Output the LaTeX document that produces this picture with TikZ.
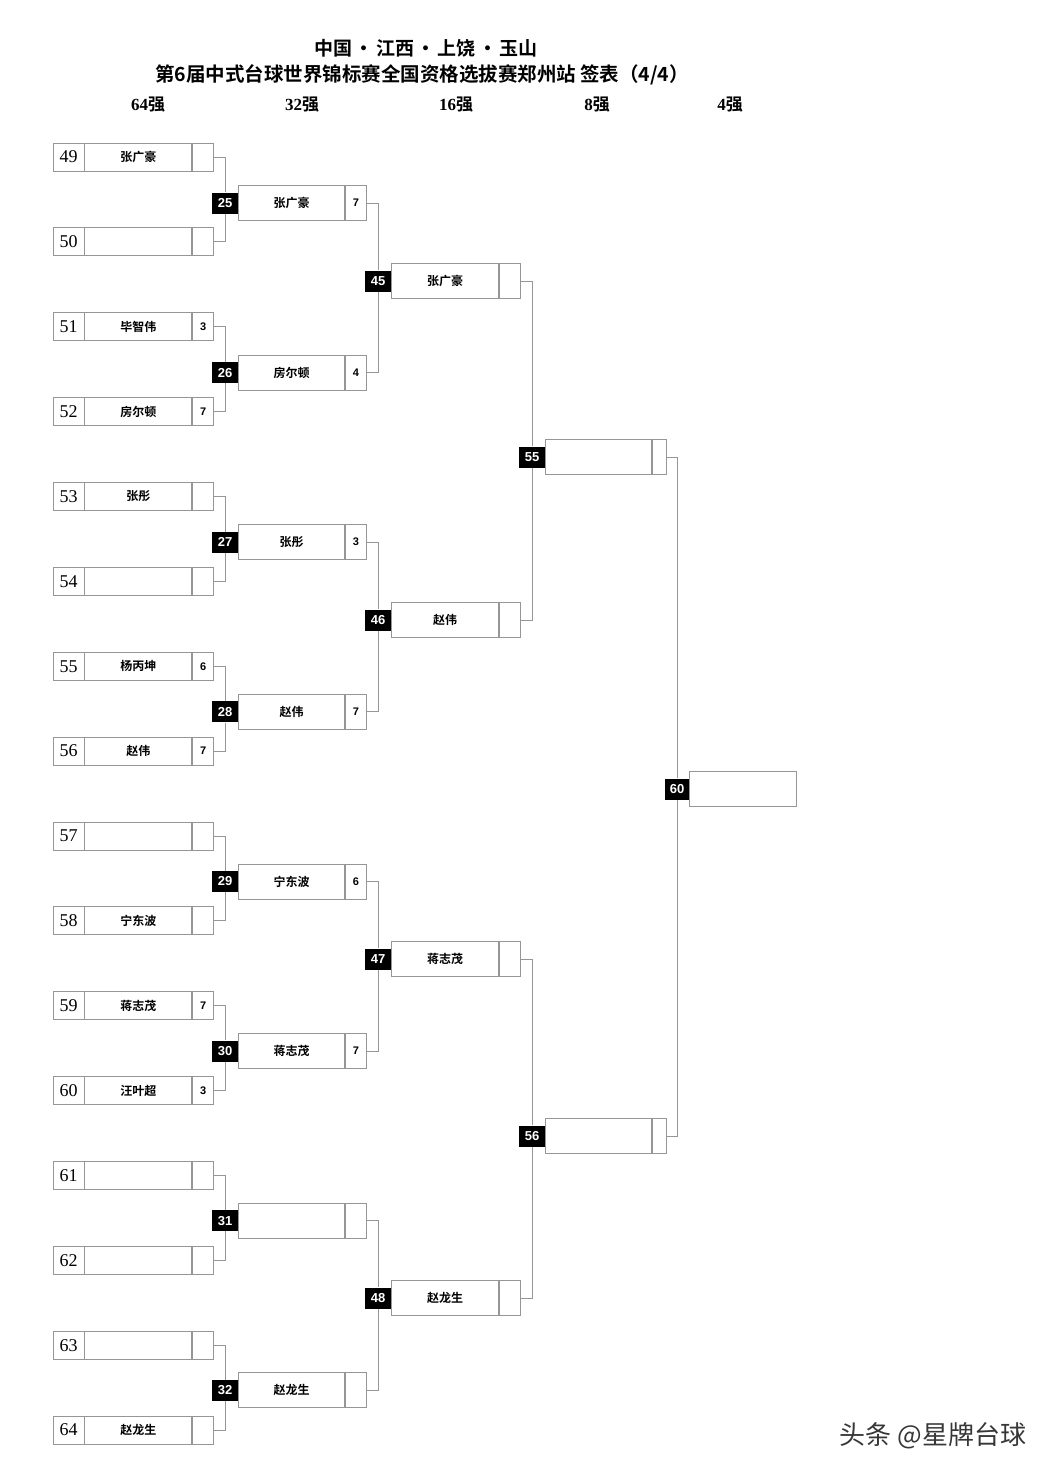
\documentclass[tikz,border=0pt]{standalone}
\usepackage{fontspec}
\setmainfont{Liberation Serif}
\setsansfont{Liberation Sans}
\newfontfamily\cjk{Noto Sans CJK SC}[BoldFont={Noto Sans CJK SC Bold}]
\usepackage{tikz}
\usetikzlibrary{positioning}
\definecolor{cellgray}{RGB}{150, 150, 150}
\definecolor{markgray}{RGB}{55, 55, 55}

\begin{document}
\begin{tikzpicture}[x=1pt, y=-1pt,
    cell/.style={draw=cellgray, line width=0.8pt, fill=white, inner sep=0pt},
    seedcell/.style={cell, minimum width=31pt, minimum height=28pt, font=\fontsize{18}{18}\selectfont},
    namecell/.style={cell, minimum width=107pt, minimum height=28pt, font=\cjk\bfseries\fontsize{12}{12}\selectfont},
    ptscell/.style={cell, minimum width=21pt, minimum height=28pt, font=\sffamily\bfseries\fontsize{11}{11}\selectfont},
    matchtag/.style={fill=black, text=white, inner sep=0pt, minimum width=26pt, minimum height=21pt, font=\sffamily\bfseries\fontsize{13}{13}\selectfont},
    link/.style={draw=cellgray, line width=0.8pt},
    roundhead/.style={font=\bfseries\fontsize{17}{17}\selectfont}
]
    \fill[white] (0,0) rectangle (1056,1473);
    \useasboundingbox (0,0) rectangle (1056,1473);

    % Title
    \node[font=\cjk\bfseries\fontsize{19}{19}\selectfont] (title) at (426,48)
        {中国\hspace{0.12em}•\hspace{0.12em}江西\hspace{0.12em}•\hspace{0.12em}上饶\hspace{0.12em}•\hspace{0.12em}玉山};
    \node[font=\cjk\bfseries\fontsize{19.5}{19.5}\selectfont] (subtitle) at (422,75)
        {第6届中式台球世界锦标赛全国资格选拔赛郑州站 签表（4/4）};

    % Round headers
    \node[roundhead] (h64) at (148,105) {64{\cjk 强}};
    \node[roundhead] (h32) at (302,105) {32{\cjk 强}};
    \node[roundhead] (h16) at (456,105) {16{\cjk 强}};
    \node[roundhead] (h8) at (597,105) {8{\cjk 强}};
    \node[roundhead] (h4) at (730,105) {4{\cjk 强}};

    % Last 64
    \foreach \seed/\who/\pts [count=\i from 0] in {49/张广豪/, 50//, 51/毕智伟/3, 52/房尔顿/7,
        53/张彤/, 54//, 55/杨丙坤/6, 56/赵伟/7, 57//, 58/宁东波/, 59/蒋志茂/7, 60/汪叶超/3,
        61//, 62//, 63//, 64/赵龙生/} {
        \node[seedcell] (seed\seed) at (68.5, {157+84.87*\i}) {\seed};
        \node[namecell, right=0pt of seed\seed] (player\seed) {\who};
        \node[ptscell, right=0pt of player\seed] (score\seed) {\pts};
    }

    % Last 32
    \foreach \m/\who/\pts [count=\i from 0] in {25/张广豪/7, 26/房尔顿/4, 27/张彤/3, 28/赵伟/7,
        29/宁东波/6, 30/蒋志茂/7, 31//, 32/赵龙生/} {
        \node[matchtag] (m\m) at (225, {203+169.6*\i}) {\m};
        \node[namecell, minimum width=106pt, minimum height=35pt, right=0pt of m\m] (w\m) {\who};
        \node[ptscell, minimum height=35pt, right=0pt of w\m] (r\m) {\pts};
        \pgfmathtruncatemacro\seedA{49+2*\i}
        \pgfmathtruncatemacro\seedB{50+2*\i}
        \draw[link] (score\seedA.east) -| (m\m);
        \draw[link] (score\seedB.east) -| (m\m);
    }

    % Last 16
    \foreach \m/\who [count=\i from 0] in {45/张广豪, 46/赵伟, 47/蒋志茂, 48/赵龙生} {
        \node[matchtag] (m\m) at (378, {281+339*\i}) {\m};
        \node[namecell, minimum height=35pt, right=0pt of m\m] (w\m) {\who};
        \node[ptscell, minimum height=35pt, right=0pt of w\m] (r\m) {};
        \pgfmathtruncatemacro\seedA{25+2*\i}
        \pgfmathtruncatemacro\seedB{26+2*\i}
        \draw[link] (r\seedA.east) -| (m\m);
        \draw[link] (r\seedB.east) -| (m\m);
    }

    % Last 8
    \foreach \m [count=\i from 0] in {55, 56} {
        \node[matchtag] (m\m) at (532, {457+679*\i}) {\m};
        \node[namecell, minimum width=106pt, minimum height=35pt, right=0pt of m\m] (w\m) {};
        \node[ptscell, minimum width=14pt, minimum height=35pt, right=0pt of w\m] (r\m) {};
        \pgfmathtruncatemacro\seedA{45+2*\i}
        \pgfmathtruncatemacro\seedB{46+2*\i}
        \draw[link] (r\seedA.east) -| (m\m);
        \draw[link] (r\seedB.east) -| (m\m);
    }

    % Last 4
    \node[matchtag, minimum width=24pt] (m60) at (677,789) {60};
    \node[namecell, minimum height=35pt, right=0pt of m60] (w60) {};
    \draw[link] (r55.east) -| (m60);
    \draw[link] (r56.east) -| (m60);

    % Watermark
    \node[font=\cjk\fontsize{26}{26}\selectfont, text=markgray] (mark) at (933,1436) {头条 @星牌台球};
\end{tikzpicture}
\end{document}
